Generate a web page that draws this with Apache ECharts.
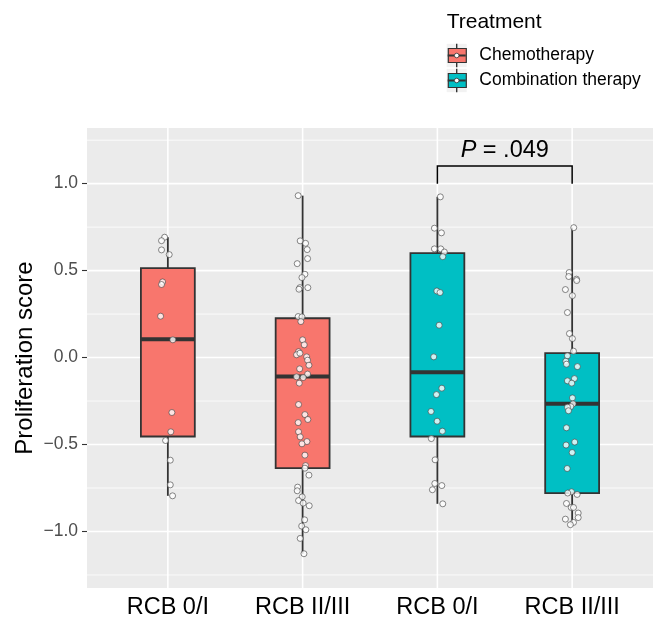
<!DOCTYPE html>
<html><head><meta charset="utf-8">
<script src="https://cdn.jsdelivr.net/npm/echarts@6/dist/echarts.min.js"></script>
<style>html,body{margin:0;padding:0;background:#fff}#c{width:660px;height:622px}</style>
</head><body><div id="c"></div>
<script>
// ---------- data ----------
const categories = ['RCB 0/I', 'RCB II/III', 'RCB 0/I', 'RCB II/III'];
const treatments = ['Chemotherapy', 'Combination therapy'];
const legendTitle = 'Treatment';
const yTitle = 'Proliferation score';
const yTicks = [-1.0, -0.5, 0.0, 0.5, 1.0];
const pLabel = '.049';

// box statistics per group: [lower whisker, Q1, median, Q3, upper whisker]
const box1 = [-0.795, -0.454, 0.106, 0.514, 0.692];
const box2 = [-1.128, -0.636, -0.109, 0.226, 0.931];
const box3 = [-0.841, -0.454, -0.084, 0.600, 0.924];
const box4 = [-0.961, -0.779, -0.266, 0.025, 0.747];

// individual points (values) and horizontal jitter (category units)
const pts1 = [0.692, 0.672, 0.619, 0.592, 0.435, 0.420, 0.238, 0.102, -0.316, -0.427, -0.477, -0.590, -0.732, -0.795];
const jit1 = [-0.024, -0.047, -0.047, 0.010, -0.039, -0.047, -0.054, 0.037, 0.030, 0.022, -0.017, 0.018, 0.018, 0.035];
const pts2 = [0.931, 0.671, 0.657, 0.621, 0.569, 0.540, 0.479, 0.460, 0.402, 0.402,
  0.393, 0.236, 0.234, 0.207, 0.102, 0.073, 0.034, 0.016, 0.025, 0.004,
  -0.015, -0.044, -0.065, -0.095, -0.111, -0.115, -0.147, -0.270, -0.328, -0.356,
  -0.374, -0.427, -0.456, -0.483, -0.496, -0.561, -0.621, -0.636, -0.676, -0.745,
  -0.766, -0.801, -0.822, -0.837, -0.852, -0.933, -0.969, -0.990, -1.040, -1.128];
const jit2 = [-0.033, -0.018, 0.022, 0.034, 0.037, -0.040, 0.017, -0.005, -0.020, 0.039,
  -0.027, -0.033, -0.005, -0.013, 0.000, 0.012, -0.030, -0.045, -0.020, 0.030,
  0.037, 0.047, -0.022, 0.037, -0.045, 0.004, -0.025, -0.030, 0.017, 0.039,
  -0.033, -0.030, -0.018, 0.032, -0.005, 0.017, 0.022, 0.017, 0.047, -0.037,
  -0.040, -0.003, -0.030, 0.004, 0.049, 0.015, -0.007, 0.024, -0.018, 0.010];
const pts3 = [0.924, 0.744, 0.717, 0.625, 0.625, 0.607, 0.580, 0.383, 0.374, 0.186, 0.004,
  -0.176, -0.213, -0.310, -0.366, -0.423, -0.466, -0.588, -0.724, -0.736, -0.760, -0.841];
const jit3 = [0.022, -0.022, 0.030, -0.022, 0.025, 0.052, 0.040, -0.004, 0.020, 0.013, -0.027,
  0.033, -0.007, -0.047, -0.002, 0.037, -0.045, -0.017, -0.019, 0.033, -0.037, 0.040];
const pts4 = [0.747, 0.489, 0.466, 0.451, 0.443, 0.391, 0.356, 0.259, 0.138, 0.109,
  0.037, 0.010, -0.021, -0.038, -0.052, -0.121, -0.134, -0.147, -0.232, -0.266,
  -0.282, -0.285, -0.306, -0.404, -0.486, -0.503, -0.546, -0.638, -0.772, -0.779,
  -0.787, -0.839, -0.862, -0.862, -0.894, -0.920, -0.929, -0.948, -0.961];
const jit4 = [0.012, -0.022, -0.025, 0.032, 0.034, -0.050, 0.002, -0.035, -0.020, 0.002,
  0.010, -0.035, -0.047, -0.042, 0.039, 0.017, -0.035, -0.003, 0.002, 0.007,
  -0.010, -0.035, -0.027, -0.042, 0.019, -0.045, 0.000, -0.037, -0.005, -0.033,
  0.037, -0.042, -0.007, 0.010, 0.045, 0.045, -0.050, 0.010, -0.013];

// significance bracket: [group from, group to, bracket height, tip end]
const bracket = [3, 4, 1.102, 1.0];

// ---------- chart ----------
const FONT = '"Liberation Sans", Arial, Helvetica, sans-serif';
const RED = '#F8766D', TEAL = '#00BFC4', DARK = '#333333';
const xPos = [1, 2, 3, 4];

function fmtY(v) { return v.toFixed(1).replace('-', '\u2212'); }

// gridline definitions derived from tick arrays
const gridData = [];
yTicks.forEach(t => gridData.push([0, t, 1]));
const minorY = [yTicks[0] - 0.25].concat(yTicks.map(t => t + 0.25));
minorY.forEach(t => gridData.push([0, t, 0]));
xPos.forEach(x => gridData.push([1, x, 1]));

function renderGrid(params, api) {
  const cs = params.coordSys;
  const vert = api.value(0), v = api.value(1), major = api.value(2);
  const lw = major ? 1.6 : 0.8;
  if (vert) {
    const px = api.coord([v, 0])[0];
    return { type: 'line', shape: { x1: px, y1: cs.y, x2: px, y2: cs.y + cs.height }, style: { stroke: '#FFFFFF', lineWidth: lw }, silent: true };
  }
  const py = api.coord([1, v])[1];
  return { type: 'line', shape: { x1: cs.x, y1: py, x2: cs.x + cs.width, y2: py }, style: { stroke: '#FFFFFF', lineWidth: lw }, silent: true };
}

function renderBox(params, api) {
  const x = api.value(0);
  const hw = 0.2;
  const pMin = api.coord([x, api.value(1)]);
  const pQ1 = api.coord([x, api.value(2)]);
  const pMed = api.coord([x, api.value(3)]);
  const pQ3 = api.coord([x, api.value(4)]);
  const pMax = api.coord([x, api.value(5)]);
  const left = api.coord([x - hw, 0])[0], right = api.coord([x + hw, 0])[0];
  const color = api.visual('color');
  return {
    type: 'group', children: [
      { type: 'line', shape: { x1: pMax[0], y1: pMax[1], x2: pQ3[0], y2: pQ3[1] }, style: { stroke: DARK, lineWidth: 1.8 } },
      { type: 'line', shape: { x1: pQ1[0], y1: pQ1[1], x2: pMin[0], y2: pMin[1] }, style: { stroke: DARK, lineWidth: 1.8 } },
      { type: 'rect', shape: { x: left, y: pQ3[1], width: right - left, height: pQ1[1] - pQ3[1] }, style: { fill: color, stroke: DARK, lineWidth: 1.8 } },
      { type: 'line', shape: { x1: left, y1: pMed[1], x2: right, y2: pMed[1] }, style: { stroke: DARK, lineWidth: 4 } }
    ]
  };
}

function renderBracket(params, api) {
  const a = api.value(0), b = api.value(1), h = api.value(2), tip = api.value(3);
  const p1 = api.coord([a, tip]), p2 = api.coord([a, h]), p3 = api.coord([b, h]), p4 = api.coord([b, tip]);
  const tc = api.coord([(a + b) / 2, h + 0.09]);
  return {
    type: 'group', children: [
      { type: 'polyline', shape: { points: [p1, p2, p3, p4] }, style: { stroke: '#000', lineWidth: 1.5, fill: null } },
      { type: 'text', x: tc[0], y: tc[1], style: {
          text: '{i|P} = ' + pLabel, align: 'center', verticalAlign: 'middle',
          fontSize: 23.5, fontFamily: FONT, fill: '#000',
          rich: { i: { fontStyle: 'italic', fontSize: 23.5, fontFamily: FONT, fill: '#000' } }
        } }
    ]
  };
}

function ptsData(x, vals, jit) { return vals.map((v, i) => [x + jit[i], v]); }

const pointStyle = { color: '#FFFFFF', borderColor: '#444444', borderWidth: 0.8 };

// legend glyph overlays
const legendTop = 45.5, legendStep = 25, keyCx = 456.7;
const graphics = [];
treatments.forEach((t, i) => {
  const cy = legendTop + 10 + i * legendStep;
  graphics.push({ type: 'rect', z: 0, shape: { x: keyCx - 10, y: cy - 11.7, width: 20, height: 23.4 }, style: { fill: '#F2F2F2' } });
  graphics.push({ type: 'line', z: 100, shape: { x1: keyCx, y1: cy - 11.7, x2: keyCx, y2: cy - 7 }, style: { stroke: DARK, lineWidth: 1.4 } });
  graphics.push({ type: 'line', z: 100, shape: { x1: keyCx, y1: cy + 7, x2: keyCx, y2: cy + 11.7 }, style: { stroke: DARK, lineWidth: 1.4 } });
  graphics.push({ type: 'line', z: 100, shape: { x1: keyCx - 9, y1: cy, x2: keyCx + 9, y2: cy }, style: { stroke: DARK, lineWidth: 2 } });
  graphics.push({ type: 'circle', z: 101, shape: { cx: keyCx, cy: cy, r: 2.3 }, style: { fill: '#fff', stroke: DARK, lineWidth: 0.8 } });
});

const option = {
  animation: false,
  backgroundColor: '#FFFFFF',
  title: {
    text: legendTitle, left: 446.7, top: 12.2, padding: 0,
    textStyle: { fontSize: 21, fontWeight: 'normal', color: '#000', fontFamily: FONT, lineHeight: 21 }
  },
  legend: {
    data: treatments, orient: 'vertical', left: 447.7, top: legendTop, padding: 0,
    itemGap: 5, itemWidth: 18, itemHeight: 14, icon: 'rect', selectedMode: false,
    itemStyle: { borderColor: DARK, borderWidth: 1.2 },
    textStyle: { fontSize: 17.5, color: '#000', fontFamily: FONT, lineHeight: 20, padding: [0, 0, 0, 8] }
  },
  grid: {
    left: 87, right: 7, top: 128, bottom: 34, show: true, backgroundColor: '#EBEBEB',
    borderWidth: 0, containLabel: false, outerBoundsMode: 'none'
  },
  xAxis: {
    type: 'value', min: 0.4, max: 4.6,
    axisLine: { show: false }, splitLine: { show: false },
    axisTick: { show: true, customValues: xPos, length: 5, lineStyle: { color: DARK, width: 1.1 } },
    axisLabel: { customValues: xPos, formatter: v => categories[Math.round(v) - 1], fontSize: 23.5, color: '#000', margin: 8, fontFamily: FONT }
  },
  yAxis: {
    type: 'value', min: -1.325, max: 1.32,
    name: yTitle, nameLocation: 'middle', nameGap: 50, nameRotate: 90, nameMoveOverlap: false,
    nameTextStyle: { fontSize: 24, color: '#000', fontFamily: FONT, lineHeight: 24 },
    axisLine: { show: false }, splitLine: { show: false },
    axisTick: { show: true, customValues: yTicks, length: 5, lineStyle: { color: DARK, width: 1.1 } },
    axisLabel: { customValues: yTicks, formatter: v => fmtY(v), fontSize: 17.5, color: '#4D4D4D', margin: 9, fontFamily: FONT }
  },
  graphic: graphics,
  series: [
    { type: 'custom', name: 'grid', silent: true, z: 1, renderItem: renderGrid, data: gridData, encode: { x: -1, y: -1 } },
    { type: 'custom', name: treatments[0], z: 2, renderItem: renderBox, itemStyle: { color: RED },
      encode: { x: 0, y: [1, 2, 3, 4, 5] }, data: [[1].concat(box1), [2].concat(box2)] },
    { type: 'custom', name: treatments[1], z: 2, renderItem: renderBox, itemStyle: { color: TEAL },
      encode: { x: 0, y: [1, 2, 3, 4, 5] }, data: [[3].concat(box3), [4].concat(box4)] },
    { type: 'scatter', name: 'pts1', z: 3, symbolSize: 6, itemStyle: pointStyle, data: ptsData(1, pts1, jit1) },
    { type: 'scatter', name: 'pts2', z: 3, symbolSize: 6, itemStyle: pointStyle, data: ptsData(2, pts2, jit2) },
    { type: 'scatter', name: 'pts3', z: 3, symbolSize: 6, itemStyle: pointStyle, data: ptsData(3, pts3, jit3) },
    { type: 'scatter', name: 'pts4', z: 3, symbolSize: 6, itemStyle: pointStyle, data: ptsData(4, pts4, jit4) },
    { type: 'custom', name: 'bracket', z: 3, silent: true, renderItem: renderBracket, data: [bracket], encode: { x: [0, 1], y: [2, 3] } }
  ]
};

const chart = echarts.init(document.getElementById('c'), null, { renderer: 'canvas' });
chart.setOption(option);
</script>
</body></html>
